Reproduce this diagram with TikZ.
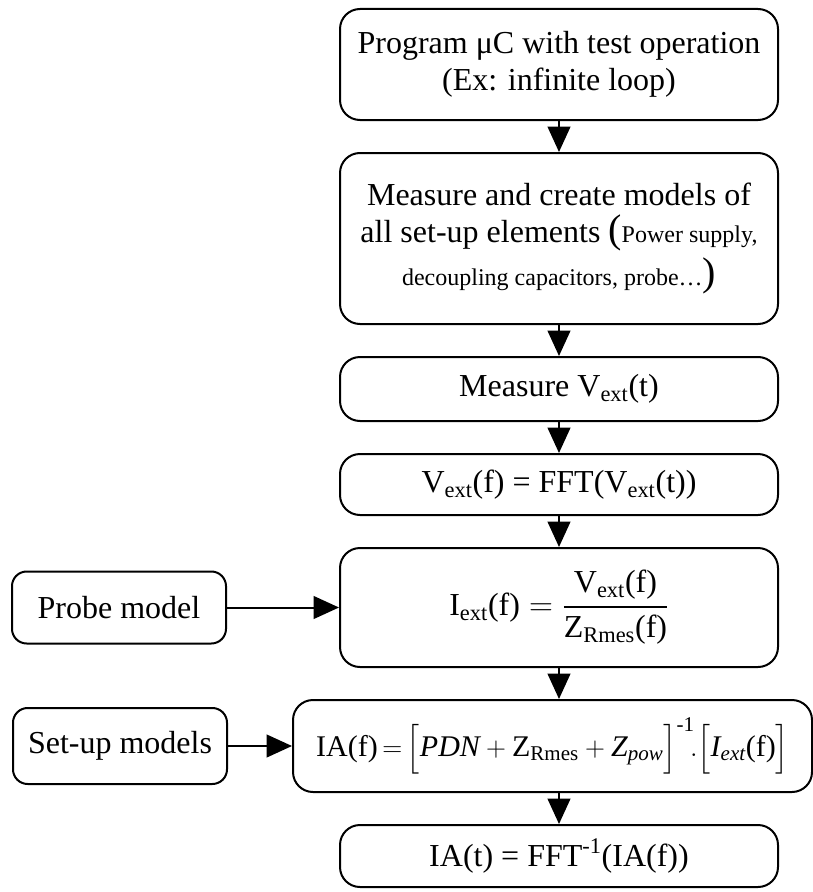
\documentclass[tikz,border=0pt]{standalone}
\usepackage{amsmath}
\usepackage{fontspec}
\setmainfont{Liberation Serif}
\usetikzlibrary{arrows.meta,positioning}
\newcommand{\smalltxt}{\fontsize{18}{21}\selectfont}
\newcommand{\bigparen}{\fontsize{30}{30}\selectfont}

\begin{document}
\begin{tikzpicture}[
  x=0.75pt,y=-0.75pt,
  node distance=23.25pt and 84pt,
  box/.style={draw,rounded corners=15pt,line width=1.5pt,align=center,minimum width=328.5pt,inner sep=3pt,font=\fontsize{24}{28}\selectfont},
  sbox/.style={draw,rounded corners=11pt,line width=1.5pt,align=center,minimum width=160.5pt,inner sep=3pt,font=\fontsize{24}{28}\selectfont},
  arr/.style={-{Triangle[length=19pt,width=17pt]},line width=1.5pt}
]
\useasboundingbox (0,0) rectangle (813,892);
% main flow
\node[box,minimum height=83.25pt] (prog) at (559,64.5) {Program μC with test operation\\(Ex: infinite loop)};
\node[box,minimum height=128.25pt,below=of prog] (models) {Measure and create models of\\all set-up elements {\bigparen(}{\smalltxt Power supply,}\\[4pt]{\smalltxt decoupling capacitors, probe…}{\bigparen)}};
\node[box,minimum height=48pt,below=of models] (meas) {Measure V\textsubscript{ext}(t)};
\node[box,minimum height=45.75pt,below=of meas] (vfft) {V\textsubscript{ext}(f) = FFT(V\textsubscript{ext}(t))};
\node[box,minimum height=89.25pt,below=of vfft] (iext) {$\text{I}_{\text{ext}}\text{(f)} = \dfrac{\text{V}_{\text{ext}}\text{(f)}}{\text{Z}_{\text{Rmes}}\text{(f)}}$};
\node[box,minimum width=389.25pt,minimum height=69pt,below=of iext,xshift=-4.875pt,font=\fontsize{22.5}{26}\selectfont] (iaf) {$\text{IA(f)}\,{=}\,\Big[\textit{PDN} + \text{Z}_{\text{Rmes}} + \textit{Z}_{\textit{pow}}\Big]^{\text{-1}}\!.\Big[\textit{I}_{\textit{ext}}\text{(f)}\Big]$};
\node[box,minimum height=46.5pt,below=of iaf,xshift=4.875pt] (iat) {IA(t) = FFT\textsuperscript{-1}(IA(f))};
% models fed in from the left
\node[sbox,minimum height=54pt,left=of iext] (probe) {Probe model};
\node[sbox,minimum height=57pt,left=48pt of iaf] (setup) {Set-up models};

\draw[arr] (prog) -- (models);
\draw[arr] (models) -- (meas);
\draw[arr] (meas) -- (vfft);
\draw[arr] (vfft) -- (iext);
\draw[arr] (iext) -- (iext.south |- iaf.north);
\draw[arr] (iat.north |- iaf.south) -- (iat);
\draw[arr] (probe) -- (iext);
\draw[arr] (setup) -- (iaf);
\end{tikzpicture}
\end{document}
